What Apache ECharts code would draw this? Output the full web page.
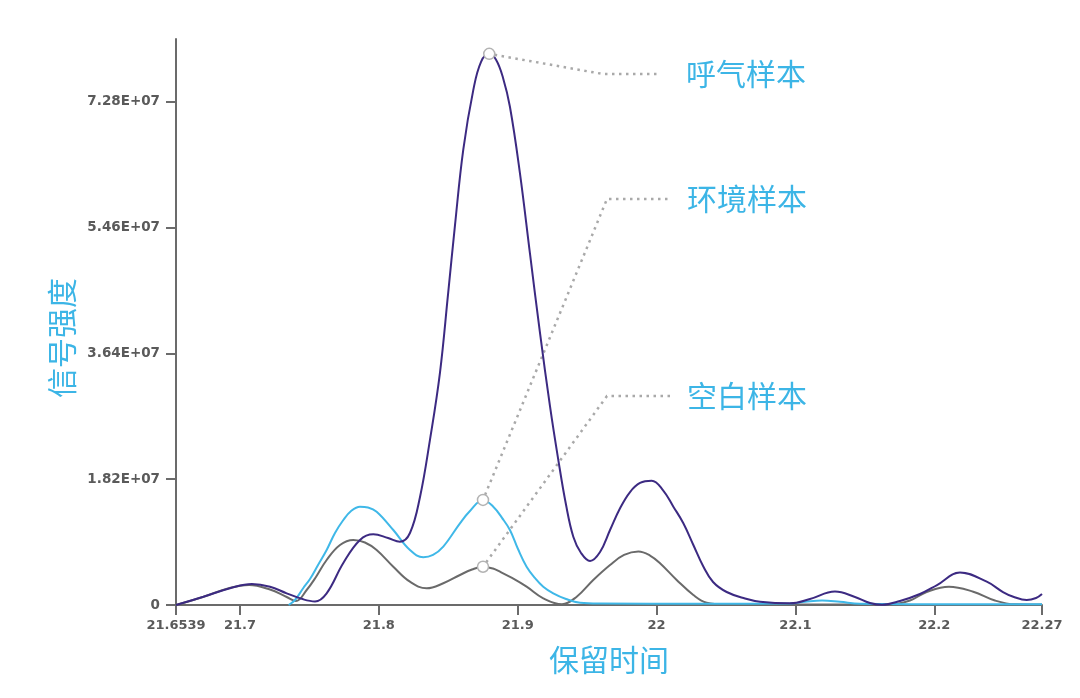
<!DOCTYPE html>
<html>
<head>
<meta charset="utf-8">
<script src="https://cdn.jsdelivr.net/npm/echarts@6/dist/echarts.min.js"></script>
<style>
html,body{margin:0;padding:0;background:#fff;}
#chart{width:1080px;height:698px;}
</style>
</head>
<body>
<div id="chart"></div>
<script>
// 呼气样本 (breath sample): retention time and signal (units of 1e6)
const breathTimes = [21.6539, 21.6736, 21.6928, 21.7086, 21.7216, 21.7336, 21.7456, 21.754, 21.7624, 21.7744,
  21.7864, 21.796, 21.8066, 21.8152, 21.8224, 21.8296, 21.8368, 21.844, 21.8498, 21.8548,
  21.8608, 21.868, 21.8736, 21.8795, 21.8844, 21.8894, 21.8944, 21.9016, 21.9088, 21.9161,
  21.9233, 21.929, 21.9348, 21.9401, 21.9456, 21.9521, 21.9593, 21.9665, 21.9737, 21.9809,
  21.9881, 21.9965, 22.0047, 22.0121, 22.0193, 22.0265, 22.0335, 22.0407, 22.0505, 22.0637,
  22.0745, 22.0961, 22.1105, 22.1285, 22.1429, 22.1537, 22.1624, 22.1753, 22.1897, 22.2020,
  22.2185, 22.2378, 22.2495, 22.2569, 22.2666, 22.2733, 22.2776];
const breathValues = [0, 1.20, 2.42, 3.04, 2.65, 1.69, 0.82, 0.51, 1.69, 6.08,
  9.41, 10.23, 9.70, 9.16, 10.42, 15.6, 23.9, 33.6, 44.9, 54.9,
  65.9, 74.5, 78.6, 79.75, 78.9, 76.3, 72.1, 62.5, 50.9, 39.3,
  28.7, 21.3, 14.5, 9.84, 7.53, 6.37, 7.67, 10.85, 14.0, 16.35,
  17.66, 17.99, 16.6, 14.23, 11.82, 8.68, 5.64, 3.33, 1.88, 0.94,
  0.48, 0.25, 0.87, 1.95, 1.16, 0.29, 0.03, 0.58, 1.59, 2.89,
  4.70, 3.37, 1.88, 1.20, 0.72, 1.01, 1.59];

// 环境样本 (environment sample)
const envTimes = [21.735, 21.7396, 21.7456, 21.7504, 21.7562, 21.7624, 21.7684, 21.7744, 21.78, 21.7864,
  21.7922, 21.7984, 21.8104, 21.8224, 21.832, 21.839, 21.8464, 21.8584, 21.8656, 21.875,
  21.8824, 21.8887, 21.8944, 21.9002, 21.9064, 21.9124, 21.9184, 21.9256, 21.9348, 21.9449,
  21.9593, 22.0313, 22.0961, 22.1069, 22.1192, 22.1321, 22.1465, 22.2113, 22.2776];
const envValues = [0, 0.72, 2.46, 3.76, 5.79, 7.96, 10.42, 12.3, 13.6, 14.23,
  14.11, 13.50, 10.85, 7.96, 6.90, 7.24, 8.44, 11.82, 13.6, 15.2,
  14.23, 12.6, 10.85, 8.1, 5.54, 3.91, 2.65, 1.69, 0.87, 0.33,
  0.22, 0.19, 0.22, 0.46, 0.65, 0.46, 0.19, 0.12, 0.12];

// 空白样本 (blank sample)
const blankTimes = [21.6539, 21.6733, 21.6913, 21.7065, 21.7216, 21.7336, 21.7403, 21.748, 21.7547, 21.7624,
  21.772, 21.7816, 21.79, 21.7984, 21.8104, 21.8224, 21.8344, 21.8464, 21.8584, 21.8671,
  21.875, 21.8822, 21.8872, 21.8959, 21.9064, 21.9184, 21.9319, 21.9425, 21.9544, 21.9665,
  21.9766, 21.9869, 21.9953, 22.0025, 22.0145, 22.0265, 22.0361, 22.0493, 22.1681, 22.1825,
  22.1945, 22.2106, 22.2281, 22.2437, 22.2582, 22.2776];
const blankValues = [0, 1.16, 2.39, 2.89, 2.24, 1.16, 0.58, 2.17, 4.05, 6.51,
  8.68, 9.41, 9.05, 7.96, 5.54, 3.37, 2.42, 3.14, 4.34, 5.14,
  5.54, 5.28, 4.82, 3.91, 2.65, 0.97, 0.10, 1.20, 3.62, 5.79,
  7.24, 7.74, 7.16, 6.04, 3.62, 1.45, 0.33, 0.07, 0.07, 0.65,
  1.88, 2.65, 1.92, 0.65, 0.10, 0.07];

const seriesNames = ['呼气样本', '环境样本', '空白样本'];
const markerTimes = [21.8795, 21.875, 21.875];

const xTickValues = [21.6539, 21.7, 21.8, 21.9, 22, 22.1, 22.2, 22.2776];
const xTickLabels = ['21.6539', '21.7', '21.8', '21.9', '22', '22.1', '22.2', '22.27'];
const yTickValues = [0, 1.82e7, 3.64e7, 5.46e7, 7.28e7];
const yTickLabels = ['0', '1.82E+07', '3.64E+07', '5.46E+07', '7.28E+07'];

const SCALE = 1e6;
const CYAN = '#3cb5e6';
const PURPLE = '#3c2a82';
const ENVC = '#3fb8e8';
const GRAY = '#6a6a6a';

function buildData(ts, values, markT) {
  return ts.map((t, i) => {
    const v = values[i] * SCALE;
    if (t === markT) {
      return {
        value: [t, v],
        symbol: 'circle',
        symbolSize: 11,
        itemStyle: { color: '#ffffff', borderColor: '#b3b3b3', borderWidth: 1.5 },
        label: { show: true }
      };
    }
    return [t, v];
  });
}

const labelStyle = (padLeft) => ({
  show: false,
  formatter: '{a}',
  color: CYAN,
  fontSize: 30,
  fontFamily: 'Noto Sans CJK SC',
  padding: [4, 90, 4, padLeft],
  backgroundColor: 'rgba(255,255,255,0)'
});
const leader = (len2) => ({
  show: true,
  length2: len2,
  lineStyle: { color: '#a9a9a9', width: 2.5, type: [2.5, 4.5] }
});

const chart = echarts.init(document.getElementById('chart'), null, { renderer: 'canvas' });
chart.setOption({
  animation: false,
  backgroundColor: '#ffffff',
  grid: { left: 176, right: 38, top: 39, bottom: 93, containLabel: false },
  xAxis: {
    type: 'value',
    min: xTickValues[0],
    max: xTickValues[xTickValues.length - 1],
    name: '保留时间',
    nameLocation: 'middle',
    nameGap: 40,
    nameTextStyle: { color: CYAN, fontSize: 30, fontFamily: 'Noto Sans CJK SC' },
    axisLine: { show: true, lineStyle: { color: '#6b6b6b', width: 2 } },
    axisTick: { show: true, length: 10, customValues: xTickValues, lineStyle: { color: '#6b6b6b', width: 2 } },
    axisLabel: {
      customValues: xTickValues,
      margin: 14,
      color: '#5a5a5a',
      fontSize: 13,
      fontWeight: 'bold',
      fontFamily: 'DejaVu Sans',
      formatter: (v) => {
        const i = xTickValues.findIndex(x => Math.abs(x - v) < 1e-6);
        return i >= 0 ? xTickLabels[i] : '';
      }
    },
    splitLine: { show: false }
  },
  yAxis: {
    type: 'value',
    min: 0,
    max: 8.19e7,
    name: '信号强度',
    nameLocation: 'middle',
    nameGap: 98,
    nameTextStyle: { color: CYAN, fontSize: 30, fontFamily: 'Noto Sans CJK SC', padding: [0, 32, 0, 0] },
    axisLine: { show: true, lineStyle: { color: '#6b6b6b', width: 2 } },
    axisTick: { show: true, length: 10, customValues: yTickValues, lineStyle: { color: '#6b6b6b', width: 2 } },
    axisLabel: {
      customValues: yTickValues,
      margin: 16,
      color: '#5a5a5a',
      fontSize: 13.5,
      fontWeight: 'bold',
      fontFamily: 'DejaVu Sans',
      formatter: (v) => {
        const i = yTickValues.findIndex(y => Math.abs(y - v) < 1);
        return i >= 0 ? yTickLabels[i] : '';
      }
    },
    splitLine: { show: false }
  },
  series: [
    {
      name: seriesNames[2], type: 'line', smooth: 0.4, symbol: 'none', showSymbol: true, showAllSymbol: true,
      data: buildData(blankTimes, blankValues, markerTimes[2]),
      lineStyle: { color: GRAY, width: 2 }, itemStyle: { color: GRAY },
      label: labelStyle(17), labelLine: leader(63),
      labelLayout: { x: 670, y: 396, align: 'left', verticalAlign: 'middle' },
      emphasis: { disabled: true }, z: 2
    },
    {
      name: seriesNames[1], type: 'line', smooth: 0.4, symbol: 'none', showSymbol: true, showAllSymbol: true,
      data: buildData(envTimes, envValues, markerTimes[1]),
      lineStyle: { color: ENVC, width: 2 }, itemStyle: { color: ENVC },
      label: labelStyle(17), labelLine: leader(63),
      labelLayout: { x: 670, y: 199, align: 'left', verticalAlign: 'middle' },
      emphasis: { disabled: true }, z: 3
    },
    {
      name: seriesNames[0], type: 'line', smooth: 0.4, symbol: 'none', showSymbol: true, showAllSymbol: true,
      data: buildData(breathTimes, breathValues, markerTimes[0]),
      lineStyle: { color: PURPLE, width: 2 }, itemStyle: { color: PURPLE },
      label: labelStyle(28), labelLine: leader(55),
      labelLayout: { x: 658, y: 74, align: 'left', verticalAlign: 'middle' },
      emphasis: { disabled: true }, z: 4
    }
  ]
});
</script>
</body>
</html>
